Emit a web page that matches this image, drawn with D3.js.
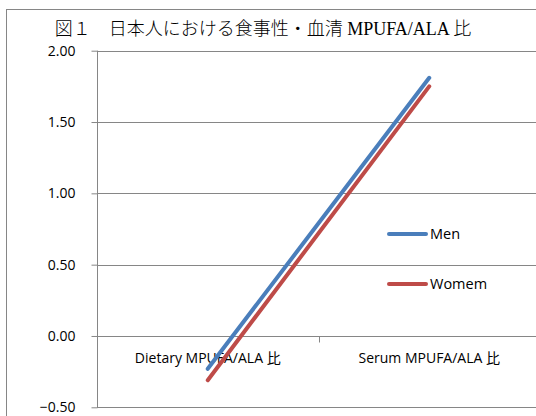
<!DOCTYPE html>
<html><head><meta charset="utf-8">
<script src="https://cdn.jsdelivr.net/npm/d3@7"></script>
<style>body{margin:0;background:#fff;overflow:hidden}</style>
</head><body><svg id="c" width="536" height="416"></svg>
<script>
const title = "図１　日本人における食事性・血清 MPUFA/ALA 比";
const categories = ["Dietary MPUFA/ALA 比", "Serum MPUFA/ALA 比"];
const seriesNames = ["Men", "Womem"];
const menValues = [-0.23, 1.81];
const womenValues = [-0.31, 1.75];
const yTicks = [-0.5, 0, 0.5, 1, 1.5, 2];
const colors = ["#4A7EBB", "#BE4B48"];

const svg = d3.select("#c");
const numFont = "'Open Sans', sans-serif";
const catFont = "'Open Sans', 'Noto Sans CJK JP', sans-serif";

// outer chart border (cropped at right/bottom)
svg.append("rect").attr("x",6.5).attr("y",9.5).attr("width",600).attr("height",600)
  .attr("fill","none").attr("stroke","#868686").attr("stroke-width",1);

const x = d3.scaleBand().domain(categories).range([97, 540]).padding(0);
const y = d3.scaleLinear().domain([-0.5, 2]).range([407.3, 50.7]);

// gridlines
svg.append("g").selectAll("line").data(yTicks).join("line")
  .attr("x1",97).attr("x2",600)
  .attr("y1",d=>Math.round(y(d))+0.5).attr("y2",d=>Math.round(y(d))+0.5)
  .attr("stroke","#868686").attr("stroke-width",1);

// y axis
const yAxis = d3.axisLeft(y).tickValues(yTicks).tickFormat(d3.format(".2f")).tickSize(6).tickPadding(16);
const gy = svg.append("g").attr("transform","translate(97.5,0)").call(yAxis);
gy.select(".domain").attr("stroke","#868686").attr("d","M0,"+y(2)+"V"+y(-0.5));
gy.selectAll(".tick line").attr("stroke","#868686");
gy.selectAll("text").attr("font-family",numFont).attr("font-size",14).attr("fill","#000");

// category axis at y=0
const xAxis = d3.axisBottom(x).tickSize(0).tickPadding(17);
const gx = svg.append("g").attr("transform","translate(0,"+(Math.round(y(0))+0.5)+")").call(xAxis);
gx.select(".domain").remove();
gx.selectAll(".tick text").attr("font-family",catFont).attr("font-size",14).attr("fill","#000");
// category separator tick
gx.append("line").attr("x1",Math.round(x(categories[1]))+0.5).attr("x2",Math.round(x(categories[1]))+0.5)
  .attr("y1",0).attr("y2",6).attr("stroke","#868686");

// lines
const line = d3.line().x((d,i)=>x(categories[i])+x.bandwidth()/2).y(d=>y(d));
[menValues, womenValues].forEach((vals,i)=>{
  svg.append("path").datum(vals).attr("d",line).attr("fill","none")
    .attr("stroke",colors[i]).attr("stroke-width",4).attr("stroke-linecap","round");
});

// legend
const legY = [234, 284];
seriesNames.forEach((n,i)=>{
  svg.append("line").attr("x1",389).attr("x2",426).attr("y1",legY[i]).attr("y2",legY[i])
    .attr("stroke",colors[i]).attr("stroke-width",4).attr("stroke-linecap","round");
  svg.append("text").attr("x",430).attr("y",legY[i]).attr("dy","0.35em")
    .attr("font-family",numFont).attr("font-size",14.5).text(n);
});

// title
svg.append("text").attr("x",263).attr("y",35).attr("text-anchor","middle")
  .attr("font-family","'Liberation Serif', 'Noto Sans CJK JP', serif").attr("font-size",18)
  .attr("font-weight",300).text(title);
</script></body></html>
